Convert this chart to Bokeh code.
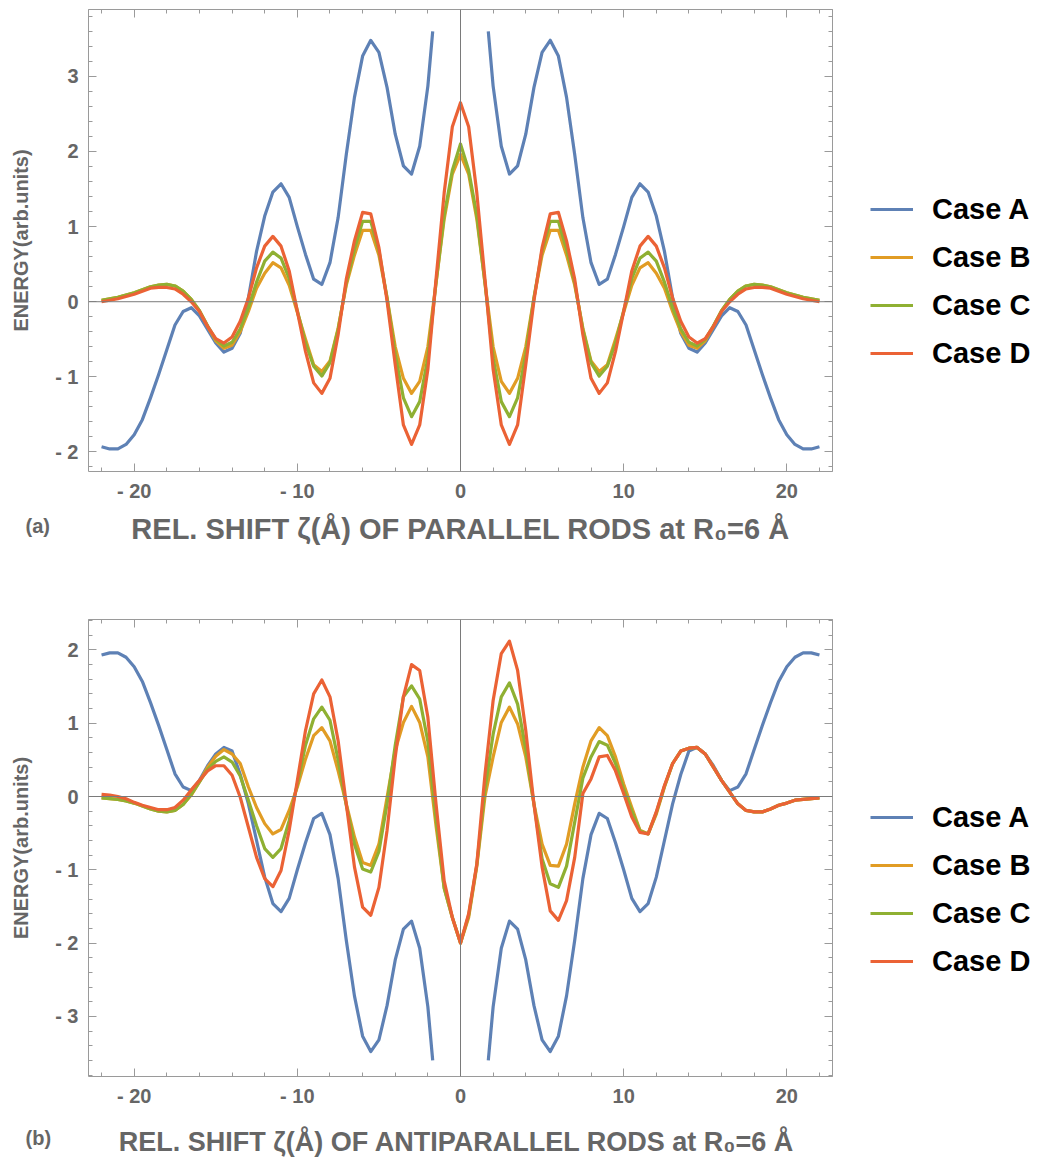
import math
from bokeh.plotting import figure
from bokeh.models import (LinearAxis, Range1d, Span, Legend, LegendItem, Title,
                          FixedTicker)
from bokeh.layouts import column, row
from bokeh.embed import file_html
from bokeh.resources import INLINE

# ---------------- data ----------------
zeta = [-22.0, -21.5, -21.0, -20.5, -20.0, -19.5, -19.0, -18.5, -18.0, -17.5,
        -17.0, -16.5, -16.0, -15.5, -15.0, -14.5, -14.0, -13.5, -13.0, -12.5,
        -12.0, -11.5, -11.0, -10.5, -10.0, -9.5, -9.0, -8.5, -8.0, -7.5,
        -7.0, -6.5, -6.0, -5.5, -5.0, -4.5, -4.0, -3.5, -3.0, -2.5,
        -2.0, -1.5, -1.0, -0.5, 0.0, 0.5, 1.0, 1.5, 2.0, 2.5,
        3.0, 3.5, 4.0, 4.5, 5.0, 5.5, 6.0, 6.5, 7.0, 7.5,
        8.0, 8.5, 9.0, 9.5, 10.0, 10.5, 11.0, 11.5, 12.0, 12.5,
        13.0, 13.5, 14.0, 14.5, 15.0, 15.5, 16.0, 16.5, 17.0, 17.5,
        18.0, 18.5, 19.0, 19.5, 20.0, 20.5, 21.0, 21.5, 22.0]

# (a) parallel rods
par_A = [-1.93, -1.96, -1.96, -1.90, -1.77, -1.57, -1.28, -0.97, -0.64, -0.31,
         -0.13, -0.08, -0.19, -0.37, -0.55, -0.67, -0.62, -0.42, 0.05, 0.67,
         1.14, 1.46, 1.57, 1.39, 1.00, 0.63, 0.30, 0.23, 0.52, 1.12,
         1.96, 2.72, 3.27, 3.48, 3.32, 2.85, 2.23, 1.81, 1.70, 2.07,
         2.87, 4.10, None, None, None, None, None, 4.10, 2.87, 2.07,
         1.70, 1.81, 2.23, 2.85, 3.32, 3.48, 3.27, 2.72, 1.96, 1.12,
         0.52, 0.23, 0.30, 0.63, 1.00, 1.39, 1.57, 1.46, 1.14, 0.67,
         0.05, -0.42, -0.62, -0.67, -0.55, -0.37, -0.19, -0.08, -0.13, -0.31,
         -0.64, -0.97, -1.28, -1.57, -1.77, -1.90, -1.96, -1.96, -1.93]
par_B = [0.02, 0.04, 0.06, 0.09, 0.12, 0.16, 0.20, 0.22, 0.23, 0.21,
         0.14, 0.03, -0.12, -0.33, -0.52, -0.62, -0.58, -0.40, -0.13, 0.18,
         0.38, 0.52, 0.45, 0.22, -0.14, -0.50, -0.84, -0.93, -0.79, -0.35,
         0.22, 0.62, 0.95, 0.95, 0.62, 0.05, -0.60, -1.02, -1.22, -1.06,
         -0.60, 0.25, 1.10, 1.70, 1.96, 1.70, 1.10, 0.25, -0.60, -1.06,
         -1.22, -1.02, -0.60, 0.05, 0.62, 0.95, 0.95, 0.62, 0.22, -0.35,
         -0.79, -0.93, -0.84, -0.50, -0.14, 0.22, 0.45, 0.52, 0.38, 0.18,
         -0.13, -0.40, -0.58, -0.62, -0.52, -0.33, -0.12, 0.03, 0.14, 0.21,
         0.23, 0.22, 0.20, 0.16, 0.12, 0.09, 0.06, 0.04, 0.02]
par_C = [0.02, 0.04, 0.06, 0.09, 0.12, 0.16, 0.20, 0.22, 0.23, 0.21,
         0.14, 0.03, -0.12, -0.32, -0.50, -0.59, -0.54, -0.36, -0.08, 0.26,
         0.54, 0.66, 0.58, 0.31, -0.12, -0.55, -0.86, -0.99, -0.81, -0.37,
         0.25, 0.70, 1.07, 1.07, 0.68, 0.05, -0.70, -1.28, -1.53, -1.33,
         -0.75, 0.25, 1.15, 1.75, 2.10, 1.75, 1.15, 0.25, -0.75, -1.33,
         -1.53, -1.28, -0.70, 0.05, 0.68, 1.07, 1.07, 0.70, 0.25, -0.37,
         -0.81, -0.99, -0.86, -0.55, -0.12, 0.31, 0.58, 0.66, 0.54, 0.26,
         -0.08, -0.36, -0.54, -0.59, -0.50, -0.32, -0.12, 0.03, 0.14, 0.21,
         0.23, 0.22, 0.20, 0.16, 0.12, 0.09, 0.06, 0.04, 0.02]
par_D = [0.00, 0.02, 0.04, 0.07, 0.10, 0.14, 0.18, 0.19, 0.19, 0.17,
         0.10, 0.00, -0.13, -0.33, -0.49, -0.55, -0.47, -0.26, 0.05, 0.45,
         0.74, 0.87, 0.74, 0.41, -0.13, -0.66, -1.08, -1.22, -1.02, -0.44,
         0.30, 0.81, 1.19, 1.17, 0.72, 0.01, -0.84, -1.64, -1.90, -1.64,
         -0.90, 0.30, 1.45, 2.33, 2.65, 2.33, 1.45, 0.30, -0.90, -1.64,
         -1.90, -1.64, -0.84, 0.01, 0.72, 1.17, 1.19, 0.81, 0.30, -0.44,
         -1.02, -1.22, -1.08, -0.66, -0.13, 0.41, 0.74, 0.87, 0.74, 0.45,
         0.05, -0.26, -0.47, -0.55, -0.49, -0.33, -0.13, 0.00, 0.10, 0.17,
         0.19, 0.19, 0.18, 0.14, 0.10, 0.07, 0.04, 0.02, 0.00]

# (b) antiparallel rods
anti_A = [1.93, 1.96, 1.96, 1.90, 1.77, 1.57, 1.28, 0.97, 0.64, 0.31,
          0.13, 0.08, 0.22, 0.42, 0.58, 0.67, 0.62, 0.30, -0.10, -0.60,
          -1.10, -1.46, -1.57, -1.39, -1.00, -0.63, -0.30, -0.23, -0.52, -1.12,
          -1.96, -2.72, -3.27, -3.48, -3.32, -2.85, -2.23, -1.81, -1.70, -2.07,
          -2.87, -4.10, None, None, None, None, None, -4.10, -2.87, -2.07,
          -1.70, -1.81, -2.23, -2.85, -3.32, -3.48, -3.27, -2.72, -1.96, -1.12,
          -0.52, -0.23, -0.30, -0.63, -1.00, -1.39, -1.57, -1.46, -1.10, -0.60,
          -0.10, 0.30, 0.62, 0.67, 0.58, 0.42, 0.22, 0.08, 0.13, 0.31,
          0.64, 0.97, 1.28, 1.57, 1.77, 1.90, 1.96, 1.96, 1.93]
anti_B = [-0.02, -0.03, -0.04, -0.06, -0.09, -0.13, -0.17, -0.20, -0.21, -0.19,
          -0.11, 0.02, 0.20, 0.40, 0.55, 0.64, 0.58, 0.45, 0.13, -0.15,
          -0.37, -0.51, -0.45, -0.19, 0.13, 0.51, 0.83, 0.94, 0.76, 0.35,
          -0.10, -0.55, -0.90, -0.94, -0.65, -0.01, 0.63, 1.01, 1.23, 1.01,
          0.54, -0.40, -1.25, -1.65, -2.00, -1.65, -0.95, 0.00, 0.54, 1.01,
          1.22, 0.99, 0.54, -0.10, -0.65, -0.94, -0.95, -0.65, -0.10, 0.40,
          0.76, 0.94, 0.83, 0.54, 0.17, -0.15, -0.46, -0.51, -0.24, 0.13,
          0.45, 0.62, 0.66, 0.67, 0.58, 0.40, 0.22, 0.06, -0.10, -0.19,
          -0.21, -0.21, -0.17, -0.12, -0.09, -0.05, -0.04, -0.03, -0.02]
anti_C = [-0.02, -0.03, -0.04, -0.06, -0.09, -0.13, -0.17, -0.20, -0.21, -0.19,
          -0.11, 0.03, 0.20, 0.37, 0.48, 0.54, 0.47, 0.28, -0.05, -0.40,
          -0.71, -0.83, -0.71, -0.33, 0.17, 0.70, 1.06, 1.22, 1.04, 0.50,
          -0.12, -0.65, -0.99, -1.03, -0.75, -0.10, 0.70, 1.36, 1.51, 1.33,
          0.75, -0.30, -1.25, -1.65, -2.00, -1.62, -0.93, 0.10, 0.85, 1.36,
          1.55, 1.26, 0.65, -0.10, -0.85, -1.19, -1.24, -0.95, -0.35, 0.25,
          0.54, 0.75, 0.70, 0.45, 0.10, -0.20, -0.47, -0.51, -0.22, 0.14,
          0.45, 0.62, 0.66, 0.67, 0.58, 0.40, 0.22, 0.06, -0.10, -0.19,
          -0.21, -0.21, -0.17, -0.12, -0.09, -0.05, -0.04, -0.03, -0.02]
anti_D = [0.03, 0.02, 0.00, -0.03, -0.08, -0.12, -0.15, -0.18, -0.18, -0.15,
          -0.05, 0.09, 0.22, 0.35, 0.42, 0.42, 0.29, -0.01, -0.42, -0.83,
          -1.12, -1.23, -1.01, -0.46, 0.22, 0.90, 1.40, 1.59, 1.36, 0.76,
          -0.10, -0.96, -1.51, -1.62, -1.24, -0.46, 0.54, 1.36, 1.80, 1.72,
          1.08, -0.10, -1.15, -1.65, -2.00, -1.60, -0.92, 0.30, 1.31, 1.95,
          2.12, 1.72, 0.90, -0.10, -0.96, -1.56, -1.69, -1.42, -0.83, 0.04,
          0.24, 0.54, 0.56, 0.35, 0.04, -0.28, -0.49, -0.51, -0.21, 0.15,
          0.45, 0.62, 0.66, 0.67, 0.58, 0.40, 0.22, 0.06, -0.10, -0.19,
          -0.21, -0.21, -0.17, -0.12, -0.09, -0.05, -0.04, -0.03, -0.02]

case_names = ["Case A", "Case B", "Case C", "Case D"]
case_colors = ["#5E81B5", "#E19C24", "#8FB032", "#EB6235"]

x_major = [-20, -10, 0, 10, 20]
x_minor = [-22, -18, -16, -14, -12, -8, -6, -4, -2, 2, 4, 6, 8, 12, 14, 16, 18, 22]
x_tick_labels = {-20: "- 20", -10: "- 10", 0: "0", 10: "10", 20: "20"}
y_tick_labels = {-3: "- 3", -2: "- 2", -1: "- 1", 0: "0", 1: "1", 2: "2", 3: "3"}

FONT = "Liberation Sans"
GRAY_TXT = "#666666"
GRAY_LINE = "#9a9a9a"
MAIN_W = 840
LEG_W = 1037 - MAIN_W


def clip_series(xs, ys, lo, hi):
    """Clip a polyline at the plot-range limits (Mathematica style)."""
    ox, oy = [], []
    prev = None

    def inside(pt):
        return pt is not None and lo <= pt[1] <= hi

    def brk():
        if ox and not math.isnan(ox[-1]):
            ox.append(float("nan"))
            oy.append(float("nan"))

    for xv, yv in zip(xs, ys):
        cur = None if yv is None else (xv, yv)
        if inside(cur):
            if prev is not None and not inside(prev):
                lim = hi if prev[1] > hi else lo
                t = (lim - prev[1]) / (cur[1] - prev[1])
                ox.append(prev[0] + t * (cur[0] - prev[0]))
                oy.append(lim)
            ox.append(cur[0])
            oy.append(cur[1])
        else:
            if cur is not None and inside(prev):
                lim = hi if cur[1] > hi else lo
                t = (lim - prev[1]) / (cur[1] - prev[1])
                ox.append(prev[0] + t * (cur[0] - prev[0]))
                oy.append(lim)
            brk()
        prev = cur
    return ox, oy


def tick_style(ax):
    ax.axis_line_color = GRAY_LINE
    ax.major_tick_line_color = GRAY_LINE
    ax.minor_tick_line_color = GRAY_LINE
    ax.major_tick_in = 8
    ax.major_tick_out = 0
    ax.minor_tick_in = 4
    ax.minor_tick_out = 0


def frame_axes(p, majors, minors, side):
    """Unlabelled frame edge (top / right) with long and short ticks."""
    a1 = LinearAxis(ticker=FixedTicker(ticks=[], minor_ticks=majors))
    a2 = LinearAxis(ticker=FixedTicker(ticks=[], minor_ticks=minors))
    for a, ln in ((a1, 8), (a2, 4)):
        tick_style(a)
        a.minor_tick_in = ln
        a.major_label_standoff = 0
        a.axis_label_standoff = 0
        p.add_layout(a, side)


def make_panel(series, y_lo, y_hi, clip_lo, clip_hi, y_major, xlabel, xlabel_size,
               tag, height, b_top, b_bottom, xlabel_standoff, legend_y):
    p = figure(width=MAIN_W, height=height,
               x_range=Range1d(-22.8, 22.8), y_range=Range1d(y_lo, y_hi),
               output_backend="svg", toolbar_location=None,
               min_border_left=88, min_border_right=8,
               min_border_top=b_top, min_border_bottom=b_bottom)
    p.grid.visible = False
    p.outline_line_color = None

    y_minor = [round(v * 0.2, 1) for v in range(int(y_lo * 5), int(y_hi * 5) + 1)
               if (v % 5) != 0]

    p.xaxis.ticker = FixedTicker(ticks=x_major, minor_ticks=x_minor)
    p.yaxis.ticker = FixedTicker(ticks=y_major, minor_ticks=y_minor)
    for ax, labels in ((p.xaxis[0], x_tick_labels), (p.yaxis[0], y_tick_labels)):
        tick_style(ax)
        ax.major_label_overrides = labels
        ax.major_label_text_font = FONT
        ax.major_label_text_font_style = "bold"
        ax.major_label_text_font_size = "20px"
        ax.major_label_text_color = GRAY_TXT
    p.xaxis.major_label_standoff = 8
    p.yaxis.major_label_standoff = 10

    p.xaxis.axis_label = xlabel
    p.xaxis.axis_label_text_font = FONT
    p.xaxis.axis_label_text_font_style = "bold"
    p.xaxis.axis_label_text_font_size = xlabel_size
    p.xaxis.axis_label_text_color = GRAY_TXT
    p.xaxis.axis_label_standoff = xlabel_standoff

    p.yaxis.axis_label = "ENERGY(arb.units)"
    p.yaxis.axis_label_text_font = FONT
    p.yaxis.axis_label_text_font_style = "bold"
    p.yaxis.axis_label_text_font_size = "20px"
    p.yaxis.axis_label_text_color = GRAY_TXT
    p.yaxis.axis_label_standoff = 20

    frame_axes(p, x_major, x_minor, "above")
    frame_axes(p, y_major, y_minor, "right")

    p.add_layout(Span(location=0, dimension="width", line_color="#7a7a7a", line_width=1))
    p.add_layout(Span(location=0, dimension="height", line_color="#7a7a7a", line_width=1))

    for name, color, ys in zip(case_names, case_colors, series):
        cx, cy = clip_series(zeta, ys, clip_lo, clip_hi)
        p.line(cx, cy, line_color=color, line_width=3.2, line_join="round")

    t = Title(text=tag, align="left", offset=-63, vertical_align="top", standoff=-66,
              text_font=FONT, text_font_style="bold", text_font_size="20px",
              text_color=GRAY_TXT)
    p.add_layout(t, "below")

    # legend panel to the right of the frame (legend keys only, no data drawn)
    lg = figure(width=LEG_W, height=height, x_range=Range1d(0, 1), y_range=Range1d(0, 1),
                output_backend="svg", toolbar_location=None,
                x_axis_type=None, y_axis_type=None,
                min_border_left=0, min_border_right=0, min_border_top=0,
                min_border_bottom=0)
    lg.grid.visible = False
    lg.outline_line_color = None
    items = []
    for name, color in zip(case_names, case_colors):
        r = lg.line([float("nan")], [float("nan")], line_color=color, line_width=3.2)
        items.append(LegendItem(label=name, renderers=[r]))
    legend = Legend(items=items, location=(30, legend_y))
    legend.label_text_font = FONT
    legend.label_text_font_style = "bold"
    legend.label_text_font_size = "29px"
    legend.label_text_color = "black"
    legend.glyph_width = 43
    legend.glyph_height = 48
    legend.label_height = 48
    legend.label_standoff = 19
    legend.spacing = 0
    legend.padding = 0
    legend.margin = 0
    legend.border_line_color = None
    legend.background_fill_alpha = 0
    lg.add_layout(legend, "center")
    return row(p, lg)


r1 = make_panel([par_A, par_B, par_C, par_D], -2.26, 3.89, -10.0, 3.6,
                [-2, -1, 0, 1, 2, 3],
                "REL. SHIFT ζ(Å) OF PARALLEL RODS at R₀=6 Å", "29px", "(a)", 590,
                9, 119, 8, 94)
r2 = make_panel([anti_A, anti_B, anti_C, anti_D], -3.82, 2.415, -3.6, 10.0,
                [-3, -2, -1, 0, 1, 2],
                "REL. SHIFT  ζ(Å) OF ANTIPARALLEL RODS at R₀=6 Å", "27px", "(b)", 573,
                29, 87, 17, 91)

layout = column(r1, r2)
open("out.html", "w").write(file_html(layout, INLINE))
